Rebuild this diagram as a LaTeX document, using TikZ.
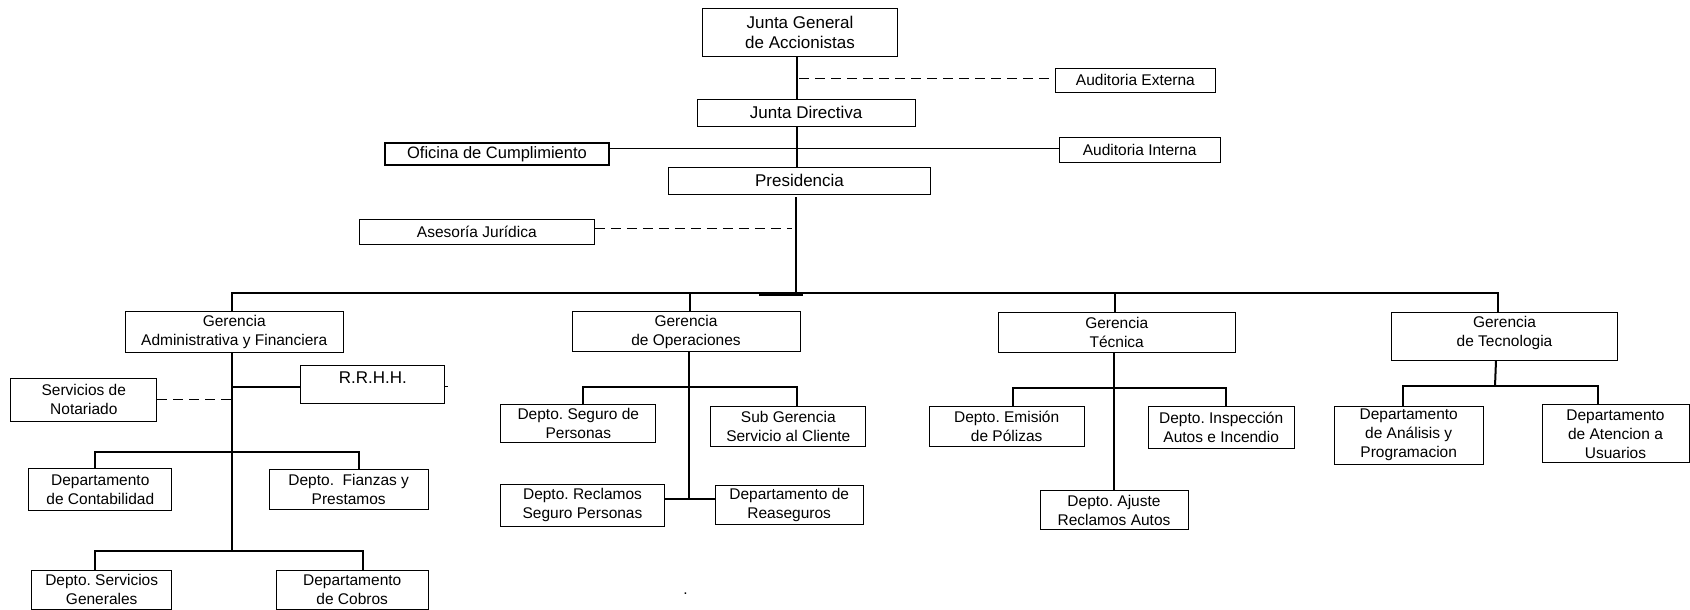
\documentclass[tikz,border=0pt]{standalone}
\usepackage{fontspec}
\setmainfont{Liberation Sans}
\newcommand\fsS{\fontsize{15.5}{19}\selectfont}
\newcommand\fsL{\fontsize{17}{20}\selectfont}
\newcommand\fsO{\fontsize{16.5}{19}\selectfont}
\tikzset{
  box/.style={draw, line width=1pt, inner sep=0pt, align=center, font=\fsS},
  big/.style={font=\fsL},
  txt/.style={inner sep=0pt, align=center, font=\fsS},
  thk/.style={line width=2pt},
  thn/.style={line width=1pt},
  dsh/.style={line width=1pt, dash pattern=on 10pt off 6pt},
}
\newcommand\bx[6]{\node[box,#1,minimum width=#4pt,minimum height=#5pt] (#2) at (#3) {#6};}
\begin{document}
\frenchspacing
\begin{tikzpicture}[x=1pt,y=-1pt]
\useasboundingbox (0,0) rectangle (1690,610);
% ---- boxes
\bx{big}{jga}{800,32.2}{194.6}{47.7}{Junta General\\de Accionistas}
\bx{}{ae}{1135.4,80.3}{160.7}{24}{Auditoria Externa}
\bx{big}{jd}{806.2,112.5}{217.7}{27}{Junta Directiva}
\bx{font=\fsO,line width=2pt}{oc}{497,153.9}{224}{22.3}{Oficina de Cumplimiento}
\bx{}{ai}{1139.7,149.8}{160.7}{25}{Auditoria Interna}
\bx{big}{pres}{799.5,180.7}{262.4}{26.7}{Presidencia}
\bx{}{aj}{476.8,231.7}{235}{25.3}{Asesoría Jurídica}
% admin
\bx{}{gaf}{234.2,332.2}{218.3}{41}{Gerencia\\Administrativa y Financiera}
\bx{}{rrhh}{372.8,384.5}{144.3}{37.6}{}
\node[txt,font=\fsL] (rrhhT) at (372.8,378) {R.R.H.H.};
\bx{}{sn}{83.8,399.7}{145.7}{42.7}{Servicios de\\Notariado}
\bx{}{dc}{100.3,489.8}{142.7}{41.7}{Departamento\\de Contabilidad}
\bx{}{dfp}{348.7,489.2}{159.3}{40.3}{Depto.\ \ Fianzas y\\Prestamos}
\bx{}{dsg}{101.7,589.7}{140}{39.3}{Depto. Servicios\\Generales}
\bx{}{dcob}{352.2,589.7}{152.3}{39.3}{Departamento\\de Cobros}
% ops
\bx{}{go}{686,331.7}{228}{40}{Gerencia\\de Operaciones}
\bx{}{dsp}{578.3,423.8}{155.3}{37.7}{Depto. Seguro de\\Personas}
\bx{}{sgc}{788.3,426}{155.3}{40}{Sub Gerencia\\Servicio al Cliente}
\bx{}{drsp}{582.5,505}{163.6}{42}{Depto. Reclamos\\Seguro Personas}
\bx{}{dr}{789.2,505.2}{148.3}{39}{Departamento de\\Reaseguros}
% tecnica
\bx{}{gt}{1116.7,332.5}{236.7}{40.4}{Gerencia\\Técnica}
\bx{}{dep}{1006.7,426}{154.7}{40}{Depto. Emisión\\de Pólizas}
\bx{}{dia}{1221.2,427.8}{145.7}{42.3}{Depto. Inspección\\Autos e Incendio}
\bx{}{dara}{1114,510.3}{148}{39.3}{Depto. Ajuste\\Reclamos Autos}
% tecnologia
\bx{}{gtec}{1504.5,336.5}{226.4}{48.4}{}
\node[txt] (gtecT) at (1504.5,333) {Gerencia\\de Tecnologia};
\bx{}{dap}{1408.7,435}{149.3}{58}{Departamento\\de Análisis y\\Programacion}
\bx{}{dau}{1615.5,433.8}{147}{57.7}{Departamento\\de Atencion a\\Usuarios}
\node[txt,anchor=base] (dot) at (685.6,594) {.};
% ---- connectors top
\coordinate (v0) at (797,0);
\draw[thk] (v0 |- jga.south) -- (v0 |- jd.north);
\coordinate (dA) at (799,78.5);
\draw[dsh] (dA) -- (dA -| ae.west);
\draw[thk] (v0 |- jd.south) -- (v0 |- pres.north);
\coordinate (hA) at (0,148.3);
\draw[thn] (oc.east |- hA) -- (ai.west |- hA);
\coordinate (pbot) at (796,197.3);
\coordinate (bj) at (796,293.3);
\draw[thk] (pbot) -- (bj);
\coordinate (dB) at (791.7,228.3);
\draw[dsh] (aj.east |- dB) -- (dB);
% main bus
\coordinate (busL) at (232.3,293.3);
\coordinate (busR) at (1497.7,293.3);
\draw[thk] (busL |- gaf.north) -- (busL) -- (busR) -- (busR |- gtec.north);
\draw[line width=2.5pt] (759.3,294.5) -- (802.7,294.5);
\coordinate (xgo) at (690,293.3);
\draw[thk] (xgo) -- (xgo |- go.north);
\coordinate (xgt) at (1115,293.3);
\draw[thk] (xgt) -- (xgt |- gt.north);
% admin branch
\coordinate (xA) at (232.3,0);
\coordinate (b2L) at (95,551);
\coordinate (b2R) at (363.3,551);
\draw[thk] (xA |- gaf.south) -- (xA |- b2L);
\coordinate (rA) at (232.3,386.7);
\draw[thk] (rA) -- (rA -| rrhh.west);
\draw[thn] (rrhh.east |- rA) -- ++(2.5,0);
\coordinate (nA) at (232.3,399.3);
\draw[dsh] (sn.east |- nA) -- (nA);
\coordinate (b1L) at (95,451.7);
\coordinate (b1R) at (359.3,451.7);
\draw[thk] (b1L |- dc.north) -- (b1L) -- (b1R) -- (b1R |- dfp.north);
\draw[thk] (b2L |- dsg.north) -- (b2L) -- (b2R) -- (b2R |- dcob.north);
% ops branch
\coordinate (xO) at (689,0);
\coordinate (oEnd) at (689,500);
\draw[thk] (xO |- go.south) -- (oEnd);
\coordinate (o1L) at (583.3,386.7);
\coordinate (o1R) at (796.7,386.7);
\draw[thk] (o1L |- dsp.north) -- (o1L) -- (o1R) -- (o1R |- sgc.north);
\coordinate (hO) at (0,499);
\draw[thk] (drsp.east |- hO) -- (dr.west |- hO);
% tecnica branch
\coordinate (xT) at (1114.3,0);
\draw[thk] (xT |- gt.south) -- (xT |- dara.north);
\coordinate (t1L) at (1012.7,388.3);
\coordinate (t1R) at (1226,388.3);
\draw[thk] (t1L |- dep.north) -- (t1L) -- (t1R) -- (t1R |- dia.north);
% tecnologia branch
\coordinate (tA) at (1496,360.7);
\coordinate (tB) at (1495,386);
\draw[thk] (tA) -- (tB);
\coordinate (g1L) at (1403.3,386);
\coordinate (g1R) at (1597.7,386);
\draw[thk] (g1L |- dap.north) -- (g1L) -- (g1R) -- (g1R |- dau.north);
\end{tikzpicture}
\end{document}
